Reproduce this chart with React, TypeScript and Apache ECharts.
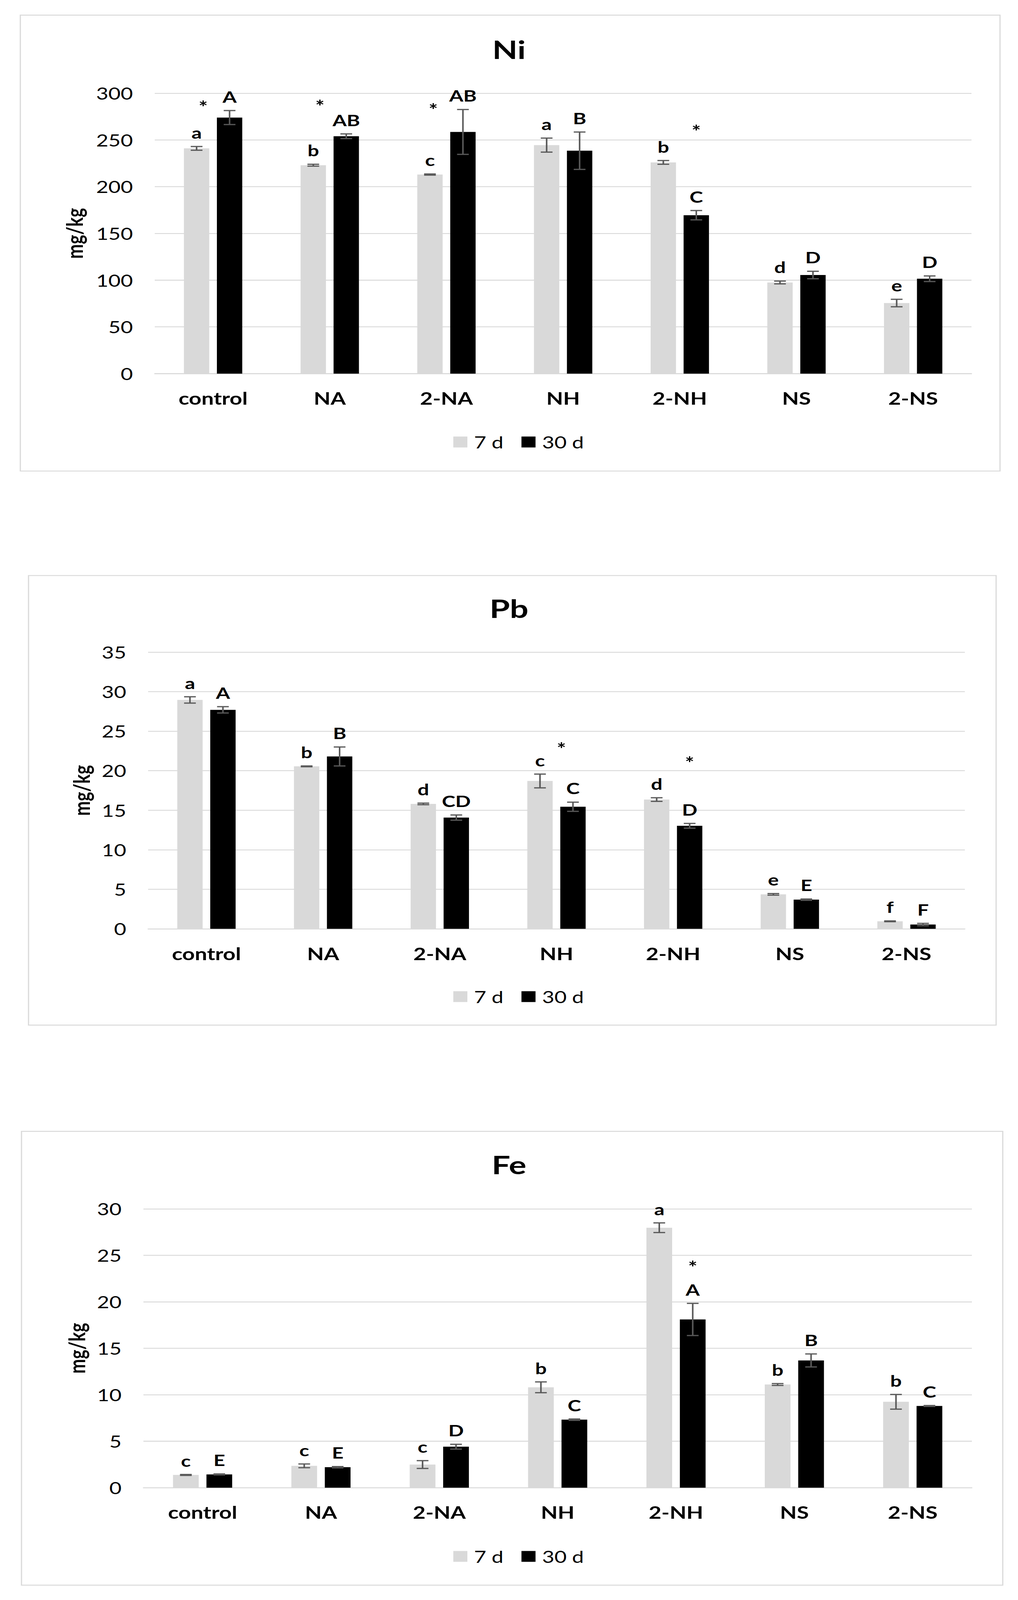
import React, { useEffect, useRef } from "react";
import * as echarts from "echarts";

// ---------- data ----------
const categories = ["control", "NA", "2-NA", "NH", "2-NH", "NS", "2-NS"];
const seriesNames = ["7 d", "30 d"];

// Ni
const niTitle = "Ni";
const niMax = 300;
const niInterval = 50;
const ni7 = [241, 223, 213, 244.5, 226, 97.5, 75.5];
const ni7Err = [2, 1, 0.6, 7.5, 2, 1.5, 4];
const ni30 = [274, 254, 258.6, 238.5, 169.5, 105.5, 101.5];
const ni30Err = [7.5, 2.5, 24, 20, 5, 4, 3];
const ni7Letters = ["a", "b", "c", "a", "b", "d", "e"];
const ni30Letters = ["A", "AB", "AB", "B", "C", "D", "D"];
// [category index, y value, position between 7 d bar (0) and 30 d bar (1)]
const niStars = [
  [0, 288, 0.2],
  [1, 289, 0.2],
  [2, 285, 0.1],
  [4, 262, 1],
];

// Pb
const pbTitle = "Pb";
const pbMax = 35;
const pbInterval = 5;
const pb7 = [28.95, 20.55, 15.8, 18.7, 16.35, 4.36, 0.95];
const pb7Err = [0.4, 0.05, 0.1, 0.87, 0.23, 0.1, 0.05];
const pb30 = [27.7, 21.8, 14.07, 15.44, 13.03, 3.69, 0.54];
const pb30Err = [0.4, 1.2, 0.33, 0.58, 0.3, 0.08, 0.15];
const pb7Letters = ["a", "b", "d", "c", "d", "e", "f"];
const pb30Letters = ["A", "B", "CD", "C", "D", "E", "F"];
const pbStars = [
  [3, 23.1, 0.65],
  [4, 21.3, 1],
];

// Fe
const feTitle = "Fe";
const feMax = 30;
const feInterval = 5;
const fe7 = [1.37, 2.35, 2.49, 10.8, 27.97, 11.1, 9.24];
const fe7Err = [0.05, 0.2, 0.42, 0.58, 0.52, 0.1, 0.79];
const fe30 = [1.43, 2.2, 4.41, 7.32, 18.1, 13.69, 8.79];
const fe30Err = [0.05, 0.07, 0.26, 0.07, 1.73, 0.7, 0.05];
const fe7Letters = ["c", "c", "c", "b", "a", "b", "b"];
const fe30Letters = ["E", "E", "D", "C", "A", "B", "C"];
const feStars = [[4, 24.0, 1]];

const yAxisName = "mg/kg";

// ---------- layout / style ----------
const W = 2605;
const H = 5285;
const FONT = "Lato, 'Noto Sans', sans-serif";
const GRAY = "#d9d9d9";
const BLACK = "#000000";
const ERR = "#595959";

const panels = [
  {
    title: niTitle, max: niMax, interval: niInterval,
    v7: ni7, e7: ni7Err, v30: ni30, e30: ni30Err, l7: ni7Letters, l30: ni30Letters, stars: niStars,
    box: [52, 50, 2559, 1556], grid: [396, 308, 2486, 1234], titleY: 165, legendY: 1455, nameX: 190,
  },
  {
    title: pbTitle, max: pbMax, interval: pbInterval,
    v7: pb7, e7: pb7Err, v30: pb30, e30: pb30Err, l7: pb7Letters, l30: pb30Letters, stars: pbStars,
    box: [73, 1901, 2549, 3386], grid: [379, 2154, 2469, 3068], titleY: 2012, legendY: 3287, nameX: 208,
  },
  {
    title: feTitle, max: feMax, interval: feInterval,
    v7: fe7, e7: fe7Err, v30: fe30, e30: fe30Err, l7: fe7Letters, l30: fe30Letters, stars: feStars,
    box: [55, 3737, 2566, 5236], grid: [367, 3993, 2487, 4914], titleY: 3849, legendY: 5136, nameX: 196,
  },
];

const BAR_CAT_GAP = 0.5;
const BAR_GAP = 0.3;

function barWidthFor(catW: number) {
  return (catW * (1 - BAR_CAT_GAP)) / (2 + BAR_GAP);
}

function errorSeries(g: number, values: number[], errs: number[], letters: string[], side: number) {
  return {
    type: "custom",
    xAxisIndex: g,
    yAxisIndex: g,
    z: 5,
    silent: true,
    clip: false,
    encode: { x: 0, y: 1 },
    data: values.map((v, i) => [i, v, errs[i]]),
    renderItem: (params: any, api: any) => {
      const i = api.value(0);
      const m = api.value(1);
      const e = api.value(2);
      const catW = api.size([1, 0])[0];
      const bw = barWidthFor(catW);
      const cx = api.coord([i, m])[0] + side * ((1 + BAR_GAP) / 2) * bw;
      const yTop = api.coord([i, m + e])[1];
      const yBot = api.coord([i, m - e])[1];
      const cap = 15;
      const ls = { stroke: ERR, lineWidth: 4 };
      return {
        type: "group",
        children: [
          { type: "line", shape: { x1: cx, y1: yTop, x2: cx, y2: yBot }, style: ls },
          { type: "line", shape: { x1: cx - cap, y1: yTop, x2: cx + cap, y2: yTop }, style: ls },
          { type: "line", shape: { x1: cx - cap, y1: yBot, x2: cx + cap, y2: yBot }, style: ls },
          {
            type: "text",
            x: cx,
            y: yTop - 20,
            style: {
              text: letters[params.dataIndex],
              textAlign: "center",
              textVerticalAlign: "bottom",
              fontFamily: FONT,
              fontSize: 52,
              fontWeight: "bold",
              fill: BLACK,
            },
          },
        ],
      };
    },
  };
}

function starSeries(g: number, stars: number[][]) {
  return {
    type: "custom",
    xAxisIndex: g,
    yAxisIndex: g,
    z: 6,
    silent: true,
    clip: false,
    encode: { x: 0, y: 1 },
    data: stars,
    renderItem: (params: any, api: any) => {
      const i = api.value(0);
      const v = api.value(1);
      const f = api.value(2);
      const catW = api.size([1, 0])[0];
      const bw = barWidthFor(catW);
      const off = ((1 + BAR_GAP) / 2) * bw;
      const p = api.coord([i, v]);
      const x = p[0] - off + f * 2 * off;
      return {
        type: "text",
        x,
        y: p[1] + 8,
        style: {
          text: "*",
          textAlign: "center",
          textVerticalAlign: "middle",
          fontFamily: FONT,
          fontSize: 56,
          fontWeight: "bold",
          fill: BLACK,
        },
      };
    },
  };
}

function buildOption() {
  const grid: any[] = [];
  const xAxis: any[] = [];
  const yAxis: any[] = [];
  const series: any[] = [];
  const title: any[] = [];
  const legend: any[] = [];
  const graphic: any[] = [];

  panels.forEach((p, g) => {
    const [gl, gt, gr, gb] = p.grid;
    grid.push({ left: gl, top: gt, width: gr - gl, height: gb - gt, containLabel: false });
    xAxis.push({
      type: "category",
      gridIndex: g,
      data: categories,
      axisTick: { show: false },
      axisLine: { show: true, lineStyle: { color: GRAY, width: 3 } },
      axisLabel: { fontFamily: FONT, fontSize: 56, fontWeight: "bold", color: BLACK, margin: 54 },
    });
    yAxis.push({
      type: "value",
      gridIndex: g,
      min: 0,
      max: p.max,
      interval: p.interval,
      axisLine: { show: false },
      axisTick: { show: false },
      splitLine: { show: true, lineStyle: { color: GRAY, width: 3 } },
      axisLabel: { fontFamily: FONT, fontSize: 54, color: BLACK, margin: 56 },
    });
    series.push({
      type: "bar",
      name: seriesNames[0],
      xAxisIndex: g,
      yAxisIndex: g,
      data: p.v7,
      itemStyle: { color: GRAY },
      barGap: BAR_GAP * 100 + "%",
      barCategoryGap: BAR_CAT_GAP * 100 + "%",
      silent: true,
    });
    series.push({
      type: "bar",
      name: seriesNames[1],
      xAxisIndex: g,
      yAxisIndex: g,
      data: p.v30,
      itemStyle: { color: BLACK },
      barGap: BAR_GAP * 100 + "%",
      barCategoryGap: BAR_CAT_GAP * 100 + "%",
      silent: true,
    });
    series.push(errorSeries(g, p.v7, p.e7, p.l7, -1));
    series.push(errorSeries(g, p.v30, p.e30, p.l30, 1));
    series.push(starSeries(g, p.stars));

    title.push({
      text: p.title,
      left: "center",
      top: p.titleY - 50,
      textStyle: { fontFamily: FONT, fontSize: 84, fontWeight: "bold", color: BLACK },
    });
    legend.push({
      data: seriesNames,
      left: 1155,
      top: p.legendY - 27,
      icon: "rect",
      itemWidth: 36,
      itemHeight: 36,
      itemGap: 46,
      selectedMode: false,
      textStyle: { fontFamily: FONT, fontSize: 54, color: BLACK, padding: [0, 0, 0, 12] },
    });
    const [bl, bt, br, bb] = p.box;
    graphic.push({
      type: "rect",
      z: -1,
      silent: true,
      shape: { x: bl, y: bt, width: br - bl, height: bb - bt },
      style: { fill: "rgba(0,0,0,0)", stroke: GRAY, lineWidth: 3 },
    });
    graphic.push({
      type: "text",
      x: p.nameX,
      y: (gt + gb) / 2,
      rotation: Math.PI / 2,
      silent: true,
      style: {
        text: yAxisName,
        textAlign: "center",
        textVerticalAlign: "middle",
        fontFamily: FONT,
        fontSize: 58,
        fontWeight: "bold",
        fill: BLACK,
      },
    });
  });

  return {
    animation: false,
    backgroundColor: "#ffffff",
    title,
    legend,
    grid,
    xAxis,
    yAxis,
    series,
    graphic,
  };
}

export default function App() {
  const ref = useRef<HTMLDivElement>(null);
  // The browser's visible area may be shorter than the requested page;
  // squeeze the drawing vertically so that the whole figure stays in view.
  const vh = typeof window !== "undefined" ? window.innerHeight : H;
  const sy = Math.min(1, vh / H);
  useEffect(() => {
    document.body.style.margin = "0";
    document.documentElement.style.overflow = "hidden";
    document.body.style.overflow = "hidden";
    if (!ref.current) return;
    const chart = echarts.init(ref.current, undefined, { renderer: "svg", width: W, height: H });
    chart.setOption(buildOption() as any);
    return () => chart.dispose();
  }, []);
  return (
    <div style={{ width: W, height: Math.floor(H * sy), overflow: "hidden", background: "#fff" }}>
      <div
        ref={ref}
        style={{
          width: W,
          height: H,
          transform: `scale(1, ${sy})`,
          transformOrigin: "0 0",
          background: "#fff",
        }}
      />
    </div>
  );
}
